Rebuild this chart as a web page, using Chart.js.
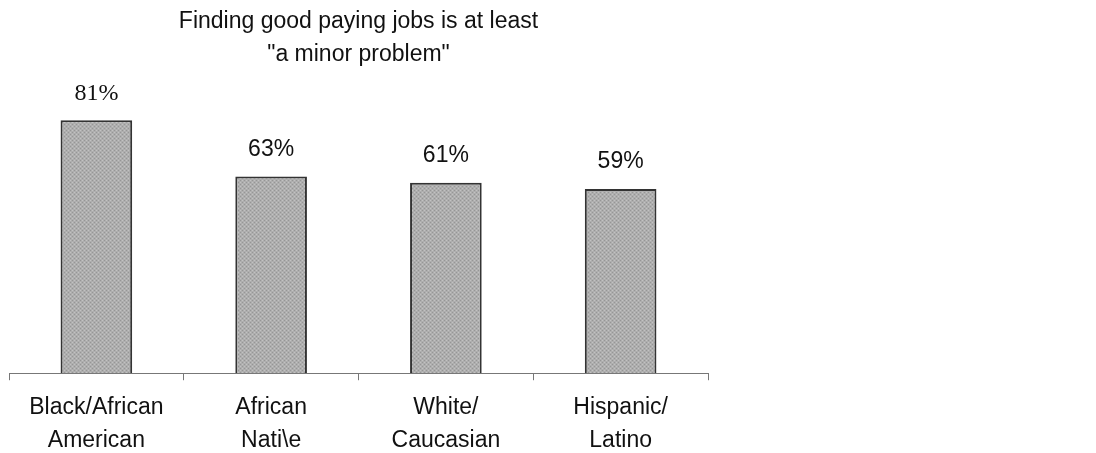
<!DOCTYPE html>
<html>
<head>
<meta charset="utf-8">
<script src="https://cdn.jsdelivr.net/npm/chart.js@4.4.1/dist/chart.umd.min.js"></script>
<style>
  html, body { margin: 0; padding: 0; background: #ffffff; }
  #wrap { width: 1096px; height: 453px; position: relative; }
</style>
</head>
<body>
<div id="wrap"><canvas id="c" width="1096" height="453"></canvas></div>
<script>
// ---- data ----
const categories = [["Black/African", "American"], ["African", "Nati\\e"], ["White/", "Caucasian"], ["Hispanic/", "Latino"]];
const values = [81, 63, 61, 59];
const valueLabels = ["81%", "63%", "61%", "59%"];
const titleLines = ["Finding good paying jobs is at least", "\"a minor problem\""];

// dotted grey fill pattern
function makePattern() {
  const p = document.createElement('canvas');
  p.width = 4; p.height = 4;
  const g = p.getContext('2d');
  g.fillStyle = '#aeaeae';
  g.fillRect(0, 0, 4, 4);
  g.fillStyle = '#969696';
  g.fillRect(0, 0, 1, 1); g.fillRect(2, 2, 1, 1);
  g.fillStyle = '#c2c2c2';
  g.fillRect(2, 0, 1, 1); g.fillRect(0, 2, 1, 1);
  return g.createPattern(p, 'repeat');
}

const valueLabelPlugin = {
  id: 'valueLabels',
  afterDatasetsDraw(chart) {
    const ctx = chart.ctx;
    const meta = chart.getDatasetMeta(0);
    ctx.save();
    ctx.fillStyle = '#111';
    ctx.textAlign = 'center';
    ctx.textBaseline = 'middle';
    meta.data.forEach((bar, i) => {
      ctx.font = i === 0 ? '24px "Liberation Serif", "Times New Roman", serif'
                         : '23px "Liberation Sans", Arial, sans-serif';
      ctx.fillText(valueLabels[i], bar.x, bar.y - 27);
    });
    ctx.restore();
  }
};

new Chart(document.getElementById('c'), {
  type: 'bar',
  data: {
    labels: categories,
    datasets: [{
      data: values,
      backgroundColor: makePattern(),
      borderColor: '#333333',
      borderWidth: 2,
      borderSkipped: 'bottom',
      categoryPercentage: 1.0,
      barPercentage: 0.41
    }]
  },
  options: {
    responsive: false,
    animation: false,
    devicePixelRatio: 1,
    layout: { padding: { left: 9, right: 388, top: 0, bottom: -15 } },
    plugins: {
      legend: { display: false },
      tooltip: { enabled: false },
      title: {
        display: true,
        text: titleLines,
        color: '#111',
        font: { family: '"Liberation Sans", Arial, sans-serif', size: 23, weight: 'normal', lineHeight: 1.4 },
        padding: { top: 6, bottom: 0 }
      }
    },
    scales: {
      x: {
        offset: true,
        grid: {
          offset: true,
          drawOnChartArea: false,
          drawTicks: true,
          tickLength: 7,
          color: '#777'
        },
        border: { display: true, color: '#777', width: 1 },
        ticks: {
          color: '#111',
          padding: 11,
          maxRotation: 0,
          font: { family: '"Liberation Sans", Arial, sans-serif', size: 23, lineHeight: 1.43 }
        }
      },
      y: {
        display: false,
        min: 0,
        max: 97
      }
    }
  },
  plugins: [valueLabelPlugin]
});
</script>
</body>
</html>
